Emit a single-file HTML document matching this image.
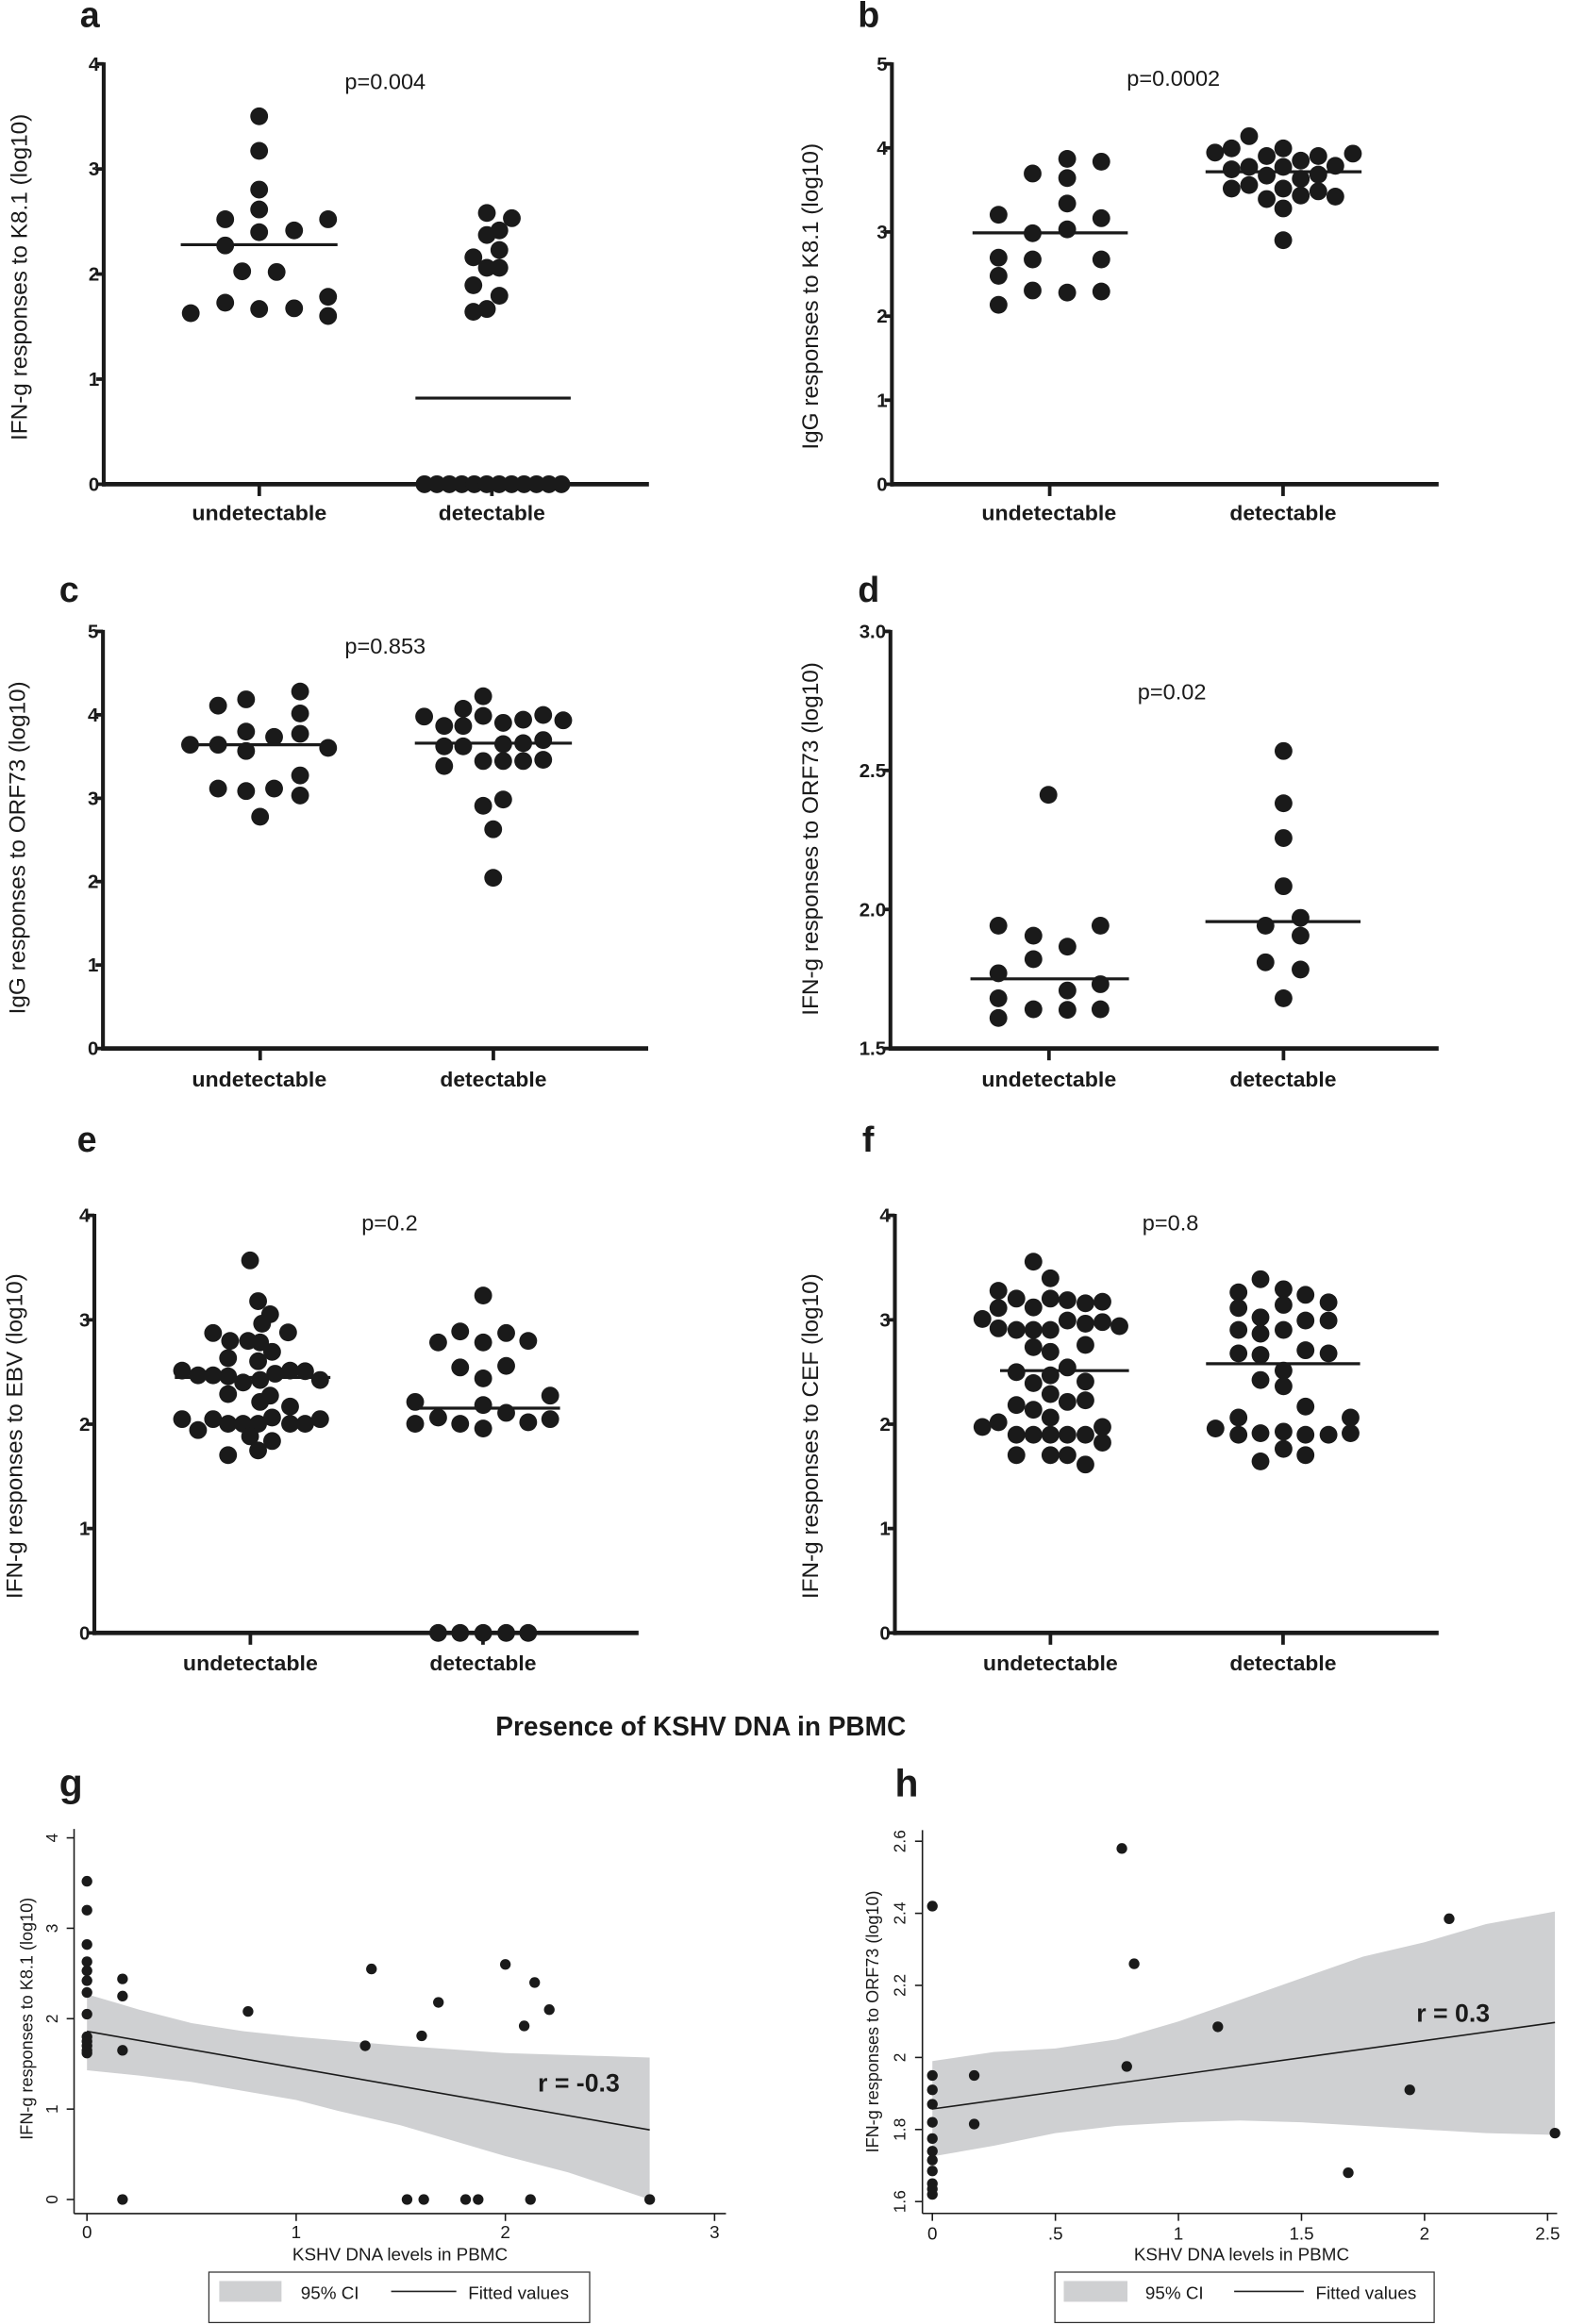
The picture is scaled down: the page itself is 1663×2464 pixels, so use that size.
<!DOCTYPE html>
<html><head><meta charset="utf-8"><style>
html,body{margin:0;padding:0;background:#fff;}
svg{display:block;}
.t{font-family:"Liberation Sans",Arial,sans-serif;fill:#1a1a1a;}
.b{font-weight:bold;}
</style></head><body>
<svg id="s" width="1663" height="2464" viewBox="0 0 1059 1568" preserveAspectRatio="none" xmlns="http://www.w3.org/2000/svg">
<rect width="1059" height="1568" fill="#fff"/>
<g id="band"></g>
<g id="ax" stroke="#1a1a1a" fill="none"></g>
<g id="dots" fill="#1a1a1a"></g>
<!-- panel letters -->
<text class="t b" x="54" y="18" font-size="24">a</text>
<text class="t b" x="579" y="18" font-size="24">b</text>
<text class="t b" x="40" y="406" font-size="24">c</text>
<text class="t b" x="579" y="406" font-size="24">d</text>
<text class="t b" x="52" y="777" font-size="24">e</text>
<text class="t b" x="582" y="777" font-size="24">f</text>
<text class="t b" x="40" y="1212" font-size="26">g</text>
<text class="t b" x="604" y="1212" font-size="26">h</text>
<!-- p values -->
<text class="t" x="260" y="60" font-size="15" text-anchor="middle">p=0.004</text>
<text class="t" x="792" y="58" font-size="15" text-anchor="middle">p=0.0002</text>
<text class="t" x="260" y="441" font-size="15" text-anchor="middle">p=0.853</text>
<text class="t" x="791" y="472" font-size="15" text-anchor="middle">p=0.02</text>
<text class="t" x="263" y="830" font-size="15" text-anchor="middle">p=0.2</text>
<text class="t" x="790" y="830" font-size="15" text-anchor="middle">p=0.8</text>
<!-- y labels -->
<text class="t" font-size="15.5" text-anchor="middle" transform="translate(18,187) rotate(-90)">IFN-g responses to K8.1 (log10)</text>
<text class="t" font-size="15.5" text-anchor="middle" transform="translate(552,200) rotate(-90)">IgG responses to K8.1 (log10)</text>
<text class="t" font-size="15.5" text-anchor="middle" transform="translate(17,572) rotate(-90)">IgG responses to ORF73 (log10)</text>
<text class="t" font-size="15.5" text-anchor="middle" transform="translate(552,566) rotate(-90)">IFN-g responses to ORF73 (log10)</text>
<text class="t" font-size="15.5" text-anchor="middle" transform="translate(15,969) rotate(-90)">IFN-g responses to EBV (log10)</text>
<text class="t" font-size="15.5" text-anchor="middle" transform="translate(552,969) rotate(-90)">IFN-g responses to CEF (log10)</text>
<text class="t" font-size="11.5" text-anchor="middle" transform="translate(22,1362) rotate(-90)">IFN-g responses to K8.1 (log10)</text>
<text class="t" font-size="11.5" text-anchor="middle" transform="translate(593,1364) rotate(-90)">IFN-g responses to ORF73 (log10)</text>
<!-- category labels -->
<g class="t b" font-size="14" text-anchor="middle">
<text x="175" y="351" textLength="91" lengthAdjust="spacingAndGlyphs">undetectable</text><text x="332" y="351" textLength="72" lengthAdjust="spacingAndGlyphs">detectable</text>
<text x="708" y="351" textLength="91" lengthAdjust="spacingAndGlyphs">undetectable</text><text x="866" y="351" textLength="72" lengthAdjust="spacingAndGlyphs">detectable</text>
<text x="175" y="733" textLength="91" lengthAdjust="spacingAndGlyphs">undetectable</text><text x="333" y="733" textLength="72" lengthAdjust="spacingAndGlyphs">detectable</text>
<text x="708" y="733" textLength="91" lengthAdjust="spacingAndGlyphs">undetectable</text><text x="866" y="733" textLength="72" lengthAdjust="spacingAndGlyphs">detectable</text>
<text x="169" y="1127" textLength="91" lengthAdjust="spacingAndGlyphs">undetectable</text><text x="326" y="1127" textLength="72" lengthAdjust="spacingAndGlyphs">detectable</text>
<text x="709" y="1127" textLength="91" lengthAdjust="spacingAndGlyphs">undetectable</text><text x="866" y="1127" textLength="72" lengthAdjust="spacingAndGlyphs">detectable</text>
</g>
<g id="ticklabels" class="t b" font-size="13" text-anchor="end"></g>
<text class="t b" x="473" y="1171" font-size="18" text-anchor="middle" textLength="277" lengthAdjust="spacingAndGlyphs">Presence of KSHV DNA in PBMC</text>
<!-- g/h text -->
<g class="t" font-size="12" text-anchor="middle">
<text x="58.7" y="1510">0</text><text x="199.9" y="1510">1</text><text x="341.1" y="1510">2</text><text x="482.3" y="1510">3</text>
<text x="629.3" y="1511">0</text><text x="712.4" y="1511">.5</text><text x="795.4" y="1511">1</text><text x="878.5" y="1511">1.5</text><text x="961.5" y="1511">2</text><text x="1044.6" y="1511">2.5</text>
<text x="270" y="1525">KSHV DNA levels in PBMC</text>
<text x="838" y="1525">KSHV DNA levels in PBMC</text>
</g>
<g class="t" font-size="11" text-anchor="middle">
<text transform="translate(39,1484) rotate(-90)">0</text>
<text transform="translate(39,1423) rotate(-90)">1</text>
<text transform="translate(39,1362) rotate(-90)">2</text>
<text transform="translate(39,1301) rotate(-90)">3</text>
<text transform="translate(39,1240) rotate(-90)">4</text>
<text transform="translate(611,1485.4) rotate(-90)">1.6</text>
<text transform="translate(611,1436.8) rotate(-90)">1.8</text>
<text transform="translate(611,1388.2) rotate(-90)">2</text>
<text transform="translate(611,1339.5) rotate(-90)">2.2</text>
<text transform="translate(611,1290.9) rotate(-90)">2.4</text>
<text transform="translate(611,1242.3) rotate(-90)">2.6</text>
</g>
<text class="t b" x="363" y="1411" font-size="17">r = -0.3</text>
<text class="t b" x="956" y="1364" font-size="17">r = 0.3</text>
<!-- legends -->
<rect x="141" y="1533" width="257" height="34" fill="none" stroke="#333" stroke-width="0.8"/>
<rect x="148" y="1539" width="42" height="14" fill="#cfd0d2"/>
<text class="t" x="203" y="1551" font-size="12">95% CI</text>
<line x1="264" y1="1546" x2="308" y2="1546" stroke="#222" stroke-width="1"/>
<text class="t" x="316" y="1551" font-size="12">Fitted values</text>
<rect x="712" y="1533" width="256" height="34" fill="none" stroke="#333" stroke-width="0.8"/>
<rect x="718" y="1539" width="43" height="14" fill="#cfd0d2"/>
<text class="t" x="773" y="1551" font-size="12">95% CI</text>
<line x1="833" y1="1546" x2="880" y2="1546" stroke="#222" stroke-width="1"/>
<text class="t" x="888" y="1551" font-size="12">Fitted values</text>
</svg>
<script>
var NS="http://www.w3.org/2000/svg";
function el(p,n,a){var e=document.createElementNS(NS,n);for(var k in a)e.setAttribute(k,a[k]);document.getElementById(p).appendChild(e);return e;}
function dot(x,y,r){el("dots","circle",{cx:x.toFixed(2),cy:y.toFixed(2),r:r});}
function ln(x1,y1,x2,y2,w){el("ax","line",{x1:x1,y1:y1,x2:x2,y2:y2,"stroke-width":w});}
function tl(x,y,s){var t=el("ticklabels","text",{x:x,y:y});t.textContent=s;}
function axis(x0,y0,ytop,xend,ticks,cats){
 ln(x0,ytop-1,x0,y0+1.5,2.6); ln(x0-1,y0,xend,y0,3);
 ticks.forEach(function(t){ln(x0-5,t[0],x0,t[0],2.4);tl(x0-3,t[0]+4.5,t[1]);});
 cats.forEach(function(c){ln(c,y0,c,y0+8,2.4);});
}
axis(70,326.7,43.1,438,[[326.7,"0"],[255.8,"1"],[184.9,"2"],[114,"3"],[43.1,"4"]],[175,332]);
axis(602,326.7,43.1,971,[[326.7,"0"],[270,"1"],[213.3,"2"],[156.5,"3"],[99.8,"4"],[43.1,"5"]],[708.5,866]);
axis(69.5,707.4,426,437.5,[[707.4,"0"],[651.1,"1"],[594.8,"2"],[538.6,"3"],[482.3,"4"],[426,"5"]],[175.6,333]);
axis(601,707.4,426,971,[[707.4,"1.5"],[613.6,"2.0"],[519.8,"2.5"],[426,"3.0"]],[708,866.3]);
axis(63.7,1101.7,820,431,[[1101.7,"0"],[1031.3,"1"],[960.9,"2"],[890.5,"3"],[820,"4"]],[169,326]);
axis(604,1101.7,820,971,[[1101.7,"0"],[1031.3,"1"],[960.9,"2"],[890.5,"3"],[820,"4"]],[709,866]);
var R=6;
function A(zx,zy){dot(zx/2.967,zy/4.245,R);}
[[519,333],[519,432],[519,543],[519,600],[451,628],[657,628],[519,665],[589,660],[451,703],[485,777],[554,779],[382,897],[451,867],[519,885],[589,883],[657,850],[657,905],
[975,610],[1025,625],[975,673],[1000,660],[1000,716],[948,737],[975,767],[1000,767],[948,817],[1000,847],[948,893],[975,885]].forEach(function(p){A(p[0],p[1]);});
for(var i=0;i<12;i++)dot(286.5+i*8.4,326.7,R);
ln(122,165.1,227.8,165.1,2);ln(280.4,268.6,385.2,268.6,2);
function B(zx,zy){dot(528.5+zx/2.956,zy/4.245,R);}
[[567,455],[635,463],[498,497],[567,510],[567,583],[430,615],[635,625],[498,668],[567,657],[430,738],[498,743],[635,743],[430,790],[498,832],[567,838],[635,835],[430,873],
[930,390],[862,437],[895,425],[965,447],[998,425],[1033,460],[1068,447],[1137,440],[895,485],[930,478],[998,478],[1102,475],[965,503],[1068,500],[1033,512],[895,540],[930,530],[998,540],[1068,548],[965,570],[1033,560],[1102,563],[998,597],[998,688]].forEach(function(p){B(p[0],p[1]);});
ln(656.4,157.1,761.2,157.1,2);ln(813.7,115.9,919,115.9,2);
function C(zx,zy){dot(zx/1.481,(620+zy/3.015)/1.5705,R);}
[[300,340],[246,365],[218,385],[300,410],[246,468],[300,475],[274,485],[190,510],[218,510],[246,530],[328,520],[300,608],[218,650],[246,658],[274,650],[300,672],[260,740],
[483,355],[463,395],[424,420],[444,450],[463,450],[483,418],[503,440],[523,430],[543,415],[563,432],[444,515],[463,515],[503,508],[523,505],[543,495],[444,578],[483,562],[503,562],[523,562],[543,558],[483,705],[503,685],[493,780],[493,935],
[1048,670],[998,1088],[1100,1088],[1033,1120],[1067,1155],[1033,1195],[998,1240],[1100,1275],[998,1320],[1067,1295],[1033,1355],[1067,1357],[1100,1355],[998,1383],
[1283,530],[1283,697],[1283,808],[1283,962],[1265,1088],[1300,1063],[1300,1120],[1265,1205],[1300,1228],[1283,1320]].forEach(function(p){C(p[0],p[1]);});
function Y2(zy){return (620+zy/3.015)/1.5705;}
ln(125,Y2(510),226,Y2(510),2);ln(280,Y2(505),386,Y2(505),2);
ln(655,Y2(1258),762,Y2(1258),2);ln(813.6,Y2(1075),918.3,Y2(1075),2);
function E(zx,zy){dot(zx/1.481,(1250+zy/3.015)/1.5705,R);}
function Y3(zy){return (1250+zy/3.015)/1.5705;}
[[250,258],[258,388],[270,430],[262,460],[213,490],[288,488],[230,515],[248,515],[260,520],[272,550],[228,570],[258,580],[182,610],[198,625],[213,625],[228,628],[243,648],[260,640],[275,620],[290,610],[305,612],[320,640],[228,685],[270,690],[260,710],[290,725],[182,765],[198,800],[213,765],[228,780],[243,780],[258,780],[272,760],[290,780],[305,780],[320,765],[250,820],[272,835],[228,880],[258,865],
[483,370],[438,520],[460,485],[483,520],[506,490],[528,515],[460,600],[506,595],[483,635],[415,710],[550,690],[483,720],[506,745],[438,760],[415,780],[460,780],[483,795],[528,775],[550,765],
[438,1448],[460,1448],[483,1448],[506,1448],[528,1448],
[1033,262],[1050,315],[998,355],[1016,380],[1050,380],[1067,385],[1085,395],[1102,390],[998,410],[1033,408],[982,445],[1067,450],[1102,455],[998,475],[1016,480],[1033,480],[1050,480],[1085,460],[1119,468],[1033,535],[1050,550],[1085,528],[1016,615],[1067,600],[1050,625],[1033,650],[1085,645],[1050,685],[1016,720],[1033,735],[1067,710],[1085,705],[998,775],[982,790],[1050,760],[1016,815],[1033,815],[1050,815],[1067,815],[1085,815],[1102,790],[1102,840],[1016,880],[1050,880],[1067,880],[1085,910],
[1260,318],[1238,360],[1283,350],[1305,368],[1238,410],[1283,400],[1328,392],[1260,440],[1305,450],[1328,450],[1238,480],[1260,492],[1283,480],[1238,555],[1260,560],[1305,545],[1328,555],[1283,610],[1260,640],[1283,660],[1305,725],[1238,760],[1215,795],[1238,815],[1260,810],[1283,805],[1305,815],[1328,815],[1350,760],[1350,810],[1260,900],[1283,860],[1305,880]].forEach(function(p){E(p[0],p[1]);});
ln(118,Y3(632),223,Y3(632),2);ln(277,Y3(730),378,Y3(730),2);
ln(675,Y3(610),762,Y3(610),2);ln(814,Y3(588),918,Y3(588),2);
function gx(u){return 58.7+u*141.2;} function gy(v){return 1484-v*61;}
var up=[[0,2.27],[0.25,2.1],[0.5,1.95],[0.75,1.86],[1,1.8],[1.5,1.7],[2,1.62],[2.69,1.57]];
var lo=[[2.69,0],[2.3,0.3],[2,0.48],[1.5,0.82],[1.2,0.98],[1,1.1],[0.5,1.3],[0.25,1.37],[0,1.43]];
el("band","path",{d:"M"+up.concat(lo).map(function(p){return gx(p[0]).toFixed(1)+","+gy(p[1]).toFixed(1);}).join(" L")+"Z",fill:"#cfd0d2"});
function hx(u){return 629.3+u*166.1;} function hy(v){return 1485.4-(v-1.6)*243.1;}
var hu=[[0,1.99],[0.25,2.015],[0.5,2.025],[0.75,2.05],[1,2.1],[1.25,2.16],[1.5,2.22],[1.75,2.28],[2,2.32],[2.25,2.37],[2.53,2.405]];
var hl=[[2.53,1.785],[2.25,1.79],[2,1.8],[1.75,1.81],[1.5,1.82],[1.25,1.825],[1,1.82],[0.75,1.81],[0.5,1.79],[0.25,1.755],[0,1.725]];
el("band","path",{d:"M"+hu.concat(hl).map(function(p){return hx(p[0]).toFixed(1)+","+hy(p[1]).toFixed(1);}).join(" L")+"Z",fill:"#cfd0d2"});
ln(gx(0),gy(1.86),gx(2.69),gy(0.77),1);
ln(hx(0),hy(1.857),hx(2.53),hy(2.097),1);
ln(50,1234,50,1493.5,1);ln(50,1493.5,490,1493.5,1);
for(var k=0;k<=4;k++){ln(45,gy(k),50,gy(k),1);}
for(var k=0;k<=3;k++){ln(gx(k),1493.5,gx(k),1498.5,1);}
ln(622.6,1234.8,622.6,1493.4,1);ln(622.6,1493.4,1051,1493.4,1);
for(var k=0;k<=5;k++){ln(617.6,hy(1.6+k*0.2),622.6,hy(1.6+k*0.2),1);}
for(var k=0;k<=5;k++){ln(hx(k*0.5),1493.4,hx(k*0.5),1498.4,1);}
var r2=3.6;
[3.52,3.2,2.82,2.63,2.53,2.42,2.29,2.05,1.8,1.75,1.7,1.65,1.62].forEach(function(v){dot(gx(0),gy(v),r2);});
[[0.17,2.44],[0.17,2.25],[0.17,1.65],[0.17,0],[0.77,2.08],[1.33,1.7],[1.36,2.55],[1.6,1.81],[1.68,2.18],[2.0,2.6],[2.09,1.92],[2.14,2.4],[2.21,2.1],[1.53,0],[1.61,0],[1.81,0],[1.87,0],[2.12,0],[2.69,0]].forEach(function(p){dot(gx(p[0]),gy(p[1]),r2);});
[2.42,1.95,1.91,1.87,1.82,1.775,1.74,1.715,1.685,1.65,1.635,1.62].forEach(function(v){dot(hx(0),hy(v),r2);});
[[0.17,1.95],[0.17,1.815],[0.77,2.58],[0.82,2.26],[0.79,1.975],[1.16,2.085],[1.69,1.68],[1.94,1.91],[2.1,2.385],[2.53,1.79]].forEach(function(p){dot(hx(p[0]),hy(p[1]),r2);});
</script>
</body></html>
